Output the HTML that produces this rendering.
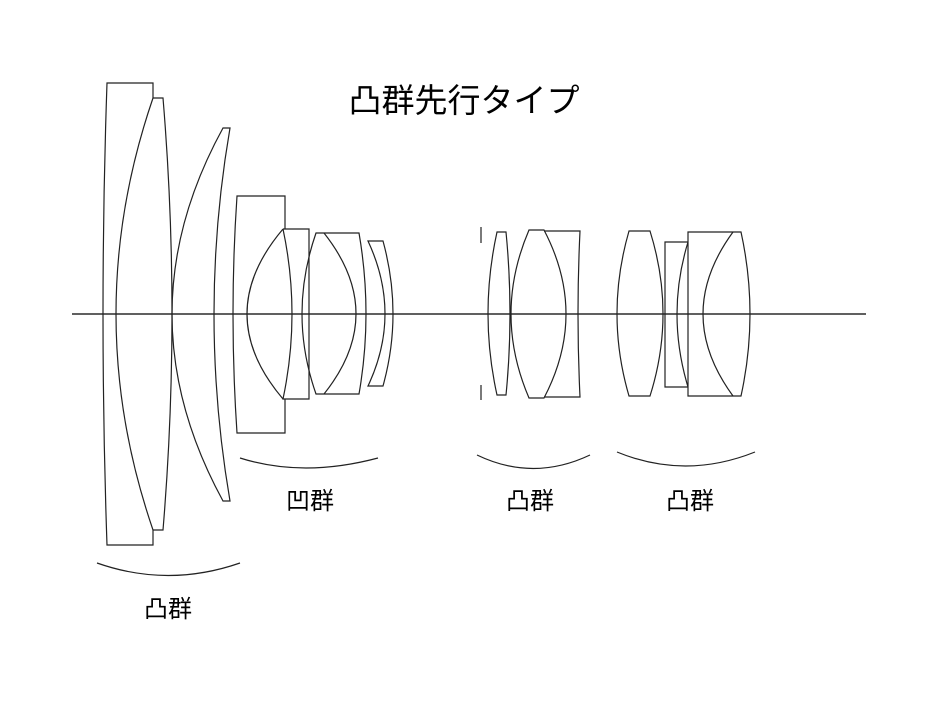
<!DOCTYPE html>
<html><head><meta charset="utf-8"><style>
html,body{margin:0;padding:0;background:#fff;width:936px;height:702px;overflow:hidden}
svg{display:block}
text{font-family:"Liberation Sans","Noto Sans CJK JP",sans-serif;fill:#000}
</style></head><body>
<svg width="936" height="702" viewBox="0 0 936 702" xmlns="http://www.w3.org/2000/svg">
<g fill="none" stroke="#222" stroke-width="1.2">
<line x1="72" y1="314" x2="866" y2="314" stroke="#000"/>
<path d="M153 98 L153 83 L107 83 Q99 314 107 545 L153 545 L153 530"/>
<path d="M153 98 Q79 314 153 530"/>
<path d="M153 98 L163 98 Q181 314 163 530 L153 530"/>
<path d="M223 128 L230 128 Q198 314 230 501 L223 501 Q121 314 223 128 Z"/>
<path d="M285 229 L285 196 L237 196 Q229 314 237 433 L285 433 L285 399"/>
<path d="M283 229 Q211 314 283 399"/>
<path d="M283 229 L309 229 L309 399 L283 399 Q301 314 283 229"/>
<path d="M316 233 L359 233 Q373 314 359 394 L316 394 Q288 314 316 233 Z"/>
<path d="M324 233 Q388 314 324 394"/>
<path d="M368 241 L383 241 Q403 314 383 386 L368 386 Q402 314 368 241 Z"/>
<line x1="481" y1="227" x2="481" y2="243"/>
<line x1="481" y1="385" x2="481" y2="400"/>
<path d="M497 232 L506 232 Q514 314 506 395 L497 395 Q479 314 497 232 Z"/>
<path d="M529 230 L544 230 Q588 314 544 398 L529 398 Q493 314 529 230 Z"/>
<path d="M544 231 L580 231 Q576 314 580 397 L544 397"/>
<path d="M629 231 L650 231 Q676 314 650 396 L629 396 Q605 314 629 231 Z"/>
<path d="M688 242 L665 242 L665 387 L688 387"/>
<path d="M688 242 Q666 314 688 387"/>
<path d="M688 232 L741 232 Q759 314 741 396 L688 396 Z"/>
<path d="M733 232 Q673 314 733 396"/>
<path d="M240 458 Q303 478 378 458"/>
<path d="M477 455 Q533 482 590 455"/>
<path d="M617 452 Q685 480 755 452"/>
<path d="M97 563 Q168 588 240 563"/>
</g>
<text x="464" y="112" font-size="33" text-anchor="middle">凸群先行タイプ</text>
<text x="310" y="509" font-size="24" text-anchor="middle">凹群</text>
<text x="530" y="509" font-size="24" text-anchor="middle">凸群</text>
<text x="690" y="509" font-size="24" text-anchor="middle">凸群</text>
<text x="168" y="617" font-size="24" text-anchor="middle">凸群</text>
</svg>
</body></html>
